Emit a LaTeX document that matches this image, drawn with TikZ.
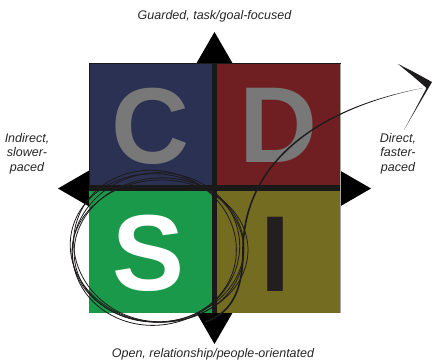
\documentclass[tikz,border=0pt]{standalone}
\usepackage{fontspec}
\setmainfont{Liberation Sans}
\definecolor{cnavy}{RGB}{42,49,82}
\definecolor{dred}{RGB}{111,31,33}
\definecolor{sgreen}{RGB}{27,153,75}
\definecolor{iolive}{RGB}{115,108,33}
\definecolor{lgrey}{RGB}{120,120,120}
\definecolor{idark}{RGB}{35,31,32}
\definecolor{ink}{RGB}{30,27,28}
\tikzset{
  letter/.style={inner sep=0pt, anchor=base, font=\fontsize{108}{108}\selectfont\bfseries},
  lbl/.style={inner sep=0pt, font=\fontsize{12.5}{14.5}\selectfont\itshape, text=black!85, align=center},
  tri/.style={fill=black},
  scrib/.style={draw=ink, line width=0.8pt},
}
\begin{document}
\begin{tikzpicture}[x=1pt,y=-1pt]
\useasboundingbox (0,0) rectangle (432,361);
\clip (0,0) rectangle (432,361);
% arrow triangles
\fill[tri] (196,64) -- (214.5,32) -- (233,64) -- cycle;
\fill[tri] (90,170) -- (58,188.5) -- (90,207) -- cycle;
\fill[tri] (339,170) -- (371,188.5) -- (339,207) -- cycle;
\fill[tri] (196,312) -- (214.5,344) -- (233,312) -- cycle;
% frame
\fill[black!90] (89,63) rectangle (341,313);
% quadrants
\fill[cnavy] (90,64.5) rectangle (212,185);
\fill[dred] (217,64.5) rectangle (340.5,185);
\fill[sgreen] (89,191) rectangle (212,313);
\fill[iolive] (217,191) rectangle (340.5,313);
\draw[gray!70, line width=0.6pt] (340.7,64) -- (340.7,313);
% letters
\node[letter, text=lgrey] (c) at (150,163.5) {C};
\node[letter, text=lgrey] (d) at (278,163) {D};
\node[letter, text=white] (s) at (149,290.5) {S};
\node[letter, text=idark] (i) at (276,291) {I};
% labels
\node[lbl, anchor=base] (top) at (214.5,20) {Guarded, task/goal-focused};
\node[lbl, anchor=base] (bot) at (213,357.5) {Open, relationship/people-orientated};
\node[lbl, anchor=base] (left) at (27,171.5) {Indirect,\\slower-\\paced};
\node[lbl, anchor=base] (right) at (398,171.5) {Direct,\\faster-\\paced};
% scribble loops
\draw[scrib] (157,248) ellipse[x radius=87, y radius=74, rotate=-8];
\draw[scrib] (159,250) ellipse[x radius=85, y radius=72, rotate=6];
\draw[scrib] (155,246) ellipse[x radius=82, y radius=75, rotate=-18];
\draw[scrib] (160,251) ellipse[x radius=88, y radius=71, rotate=2];
\draw[scrib] (156,249) ellipse[x radius=84, y radius=76, rotate=12];
% main curve to arrow (tapering)
\coordinate (cs) at (205,322);
\coordinate (cm) at (243,250);
\coordinate (ce) at (423,88);
\draw[draw=ink, line width=1.6pt, line cap=round] (cs) .. controls (235,312) and (243,285) .. (cm);
\fill[ink] (242.2,250) .. controls (242.2,175) and (299.5,111) .. (ce)
  .. controls (300.5,113.2) and (243.9,175) .. (243.9,250) -- cycle;
% chevron arrow head
\fill[ink] (398,64) .. controls (412,71) .. (432,82) -- (404,130) .. controls (416,108) .. (426.5,88) .. controls (414,77) .. cycle;
\end{tikzpicture}
\end{document}
